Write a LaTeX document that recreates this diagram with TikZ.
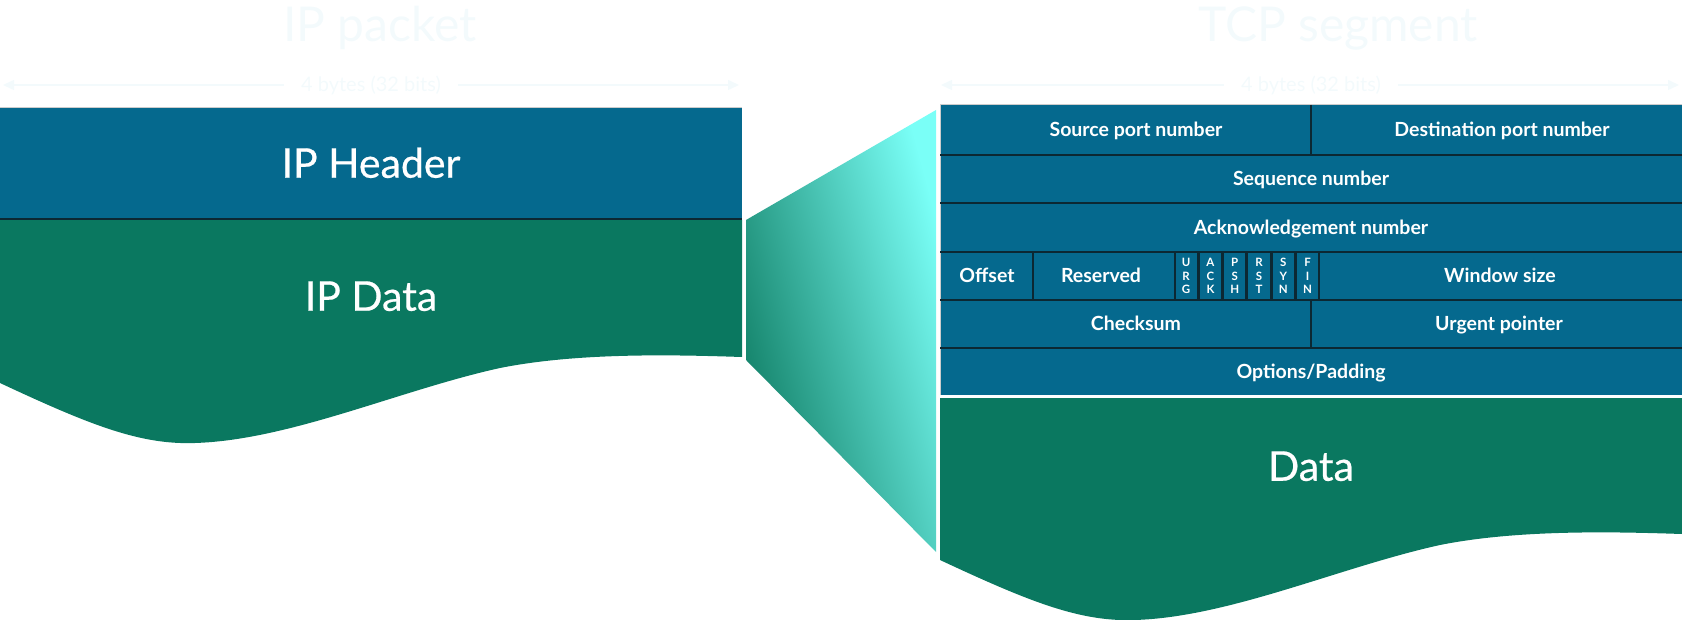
\documentclass[tikz,border=0pt]{standalone}
\usepackage{fontspec}
\setmainfont{Lato}
\newfontfamily\latomed[FakeBold=0.5]{Lato}
\usetikzlibrary{arrows.meta,positioning,calc}
\definecolor{hdrblue}{HTML}{05698E}
\definecolor{datagreen}{HTML}{0A7860}
\definecolor{rulecol}{HTML}{0C2833}
\definecolor{ghost}{HTML}{F3FAFC}
\definecolor{fadedark}{HTML}{0D7A60}
\definecolor{fademid}{HTML}{33D8BC}
\definecolor{fadelight}{HTML}{7AFFF7}
\tikzset{every picture/.style={line width=0.75pt},
  field/.style={text=white,inner sep=0pt,text height=14pt,text depth=0pt,
    font=\bfseries\fontsize{19.5}{19.5}\selectfont},
  flagbox/.style={draw=rulecol,line width=1.5pt,fill=hdrblue,inner sep=0pt,
    minimum width=22.8pt,minimum height=48pt,text=white,align=center,
    font=\bfseries\fontsize{11.5}{13.5}\selectfont},
  bigtext/.style={text=white,inner sep=0pt,text height=29.5pt,text depth=0pt,
    font=\latomed\fontsize{41}{41}\selectfont},
  titletext/.style={text=ghost,inner sep=0pt,text height=35pt,text depth=0pt,
    font=\fontsize{48}{48}\selectfont},
  dimtext/.style={text=ghost,inner ysep=0pt,inner xsep=17pt,text height=14pt,
    text depth=0pt,font=\fontsize{20}{20}\selectfont},
  dimarrow/.style={draw=ghost,line width=1.5pt,-{Triangle[length=11pt,width=10pt]}},
  divider/.style={draw=rulecol,line width=2pt},
  rim/.style={draw=white!80!black,line width=1pt}}

\begin{document}
\begin{tikzpicture}[x=1pt,y=-1pt]
    \useasboundingbox (0,0) rectangle (1682,620);
    % 标题
    \node[titletext] (ipTitle) at (380,24) {IP packet};
    \node[titletext] (tcpTitle) at (1338,24) {TCP segment};
    % 宽度标注
    \node[dimtext] (ipWidth) at (371,85) {4 bytes (32 bits)};
    \coordinate (ipL) at (3,85);
    \coordinate (ipR) at (739,85);
    \draw[dimarrow] (ipWidth) -- (ipL);
    \draw[dimarrow] (ipWidth) -- (ipR);
    \node[dimtext] (tcpWidth) at (1311,85) {4 bytes (32 bits)};
    \coordinate (tcpL) at (941,85);
    \coordinate (tcpR) at (1679,85);
    \draw[dimarrow] (tcpWidth) -- (tcpL);
    \draw[dimarrow] (tcpWidth) -- (tcpR);
    % IP 包
    \fill[hdrblue] (0,108) rectangle (742,219);
    \draw[rim] (0,108) -- (742,108);
    \fill[datagreen] (0,220) -- (742,220) -- (742,357)
        .. controls (680,355) and (580,352) .. (500,368)
        .. controls (400,390) and (290,440) .. (195,443)
        .. controls (140,445) and (90,425) .. (0,383) -- cycle;
    \draw[divider] (0,219) -- (742,219);
    \node[bigtext] (ipHead) at (371,163) {IP Header};
    \node[bigtext] (ipData) at (371,296) {IP Data};
    % 放大的过渡
    \shade[left color=fadedark,middle color=fademid,right color=fadelight,
        shading angle=105]
        (746,220) -- (936,110) -- (936,552) -- (746,360) -- cycle;
    % TCP 段首部
    \fill[hdrblue] (940,105) rectangle (1682,395);
    \draw[rim] (940,395) -- (940,105) -- (1682,105);
    \foreach \y in {155,203,252,300,348}
        \draw[divider] (940,\y) -- (1682,\y);
    \draw[divider] (1311,105) -- (1311,155);
    \draw[divider] (1033,252) -- (1033,300);
    \draw[divider] (1311,252) -- (1311,348);
    \node[field] (srcPort) at (1136,130) {Source port number};
    \node[field] (dstPort) at (1502,130) {Destination port number};
    \node[field] (seqNum) at (1311,179) {Sequence number};
    \node[field] (ackNum) at (1311,228) {Acknowledgement number};
    \node[field] (offset) at (987,276) {Offset};
    \node[field] (reserved) at (1101,276) {Reserved};
    \node[field] (window) at (1500,276) {Window size};
    \node[field] (checksum) at (1136,324) {Checksum};
    \node[field] (urgent) at (1499,324) {Urgent pointer};
    \node[field] (options) at (1311,371) {Options/Padding};
    % 标志位
    \coordinate (flag0) at (1174,276);
    \foreach \f [count=\i, remember=\i as \j (initially 0)] in
        {{U\\R\\G},{A\\C\\K},{P\\S\\H},{R\\S\\T},{S\\Y\\N},{F\\I\\N}}
        \node[flagbox,right=0pt of flag\j.east,anchor=west] (flag\i) {\f};
    % TCP 数据
    \begin{scope}[shift={(940,177)}]
        \fill[datagreen] (0,221) -- (742,221) -- (742,357)
            .. controls (680,355) and (580,352) .. (500,368)
            .. controls (400,390) and (290,440) .. (195,443)
            .. controls (140,445) and (90,425) .. (0,383) -- cycle;
    \end{scope}
    \node[bigtext] (tcpData) at (1311,466) {Data};
\end{tikzpicture}
\end{document}
